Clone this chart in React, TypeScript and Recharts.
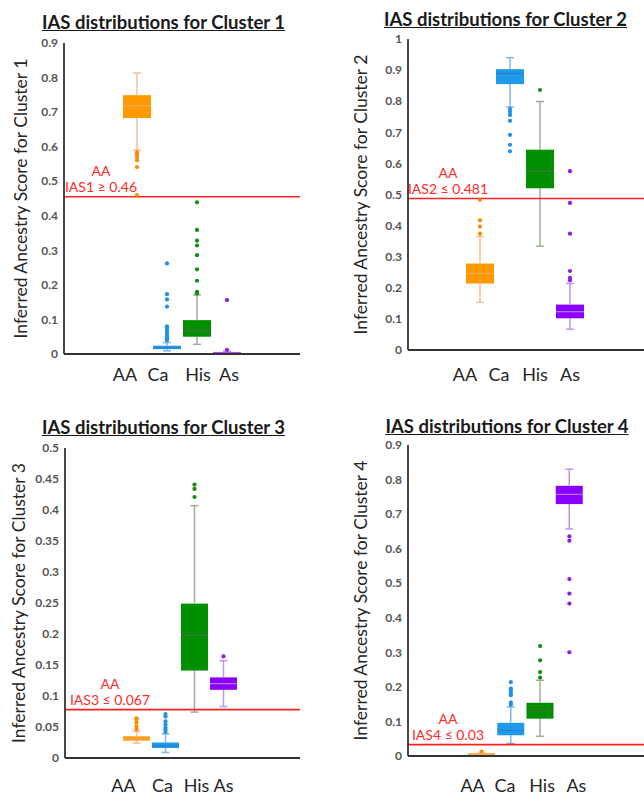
import React from 'react';
import { ComposedChart, Bar, Scatter, XAxis, YAxis, ReferenceLine } from 'recharts';

const categories = ['AA', 'Ca', 'His', 'As'];

// Cluster 1
const c1Min = [0.590, 0.009, 0.028, 0.000];
const c1Q1 = [0.683, 0.014, 0.050, 0.001];
const c1Median = [0.718, 0.018, 0.067, 0.003];
const c1Q3 = [0.749, 0.024, 0.098, 0.006];
const c1Max = [0.813, 0.033, 0.171, 0.008];
const c1Outliers = [
  [0.584, 0.576, 0.570, 0.561, 0.541, 0.460],
  [0.262, 0.173, 0.158, 0.137, 0.080, 0.075, 0.070, 0.062, 0.055, 0.050, 0.045, 0.040],
  [0.439, 0.359, 0.328, 0.314, 0.286, 0.245, 0.212, 0.180, 0.175],
  [0.156, 0.012],
];
const c1Ticks = [0, 0.1, 0.2, 0.3, 0.4, 0.5, 0.6, 0.7, 0.8, 0.9];
const c1Threshold = 0.455;
const c1ThresholdText = ['AA', 'IAS1 ≥ 0.46'];

// Cluster 2
const c2Min = [0.153, 0.782, 0.334, 0.067];
const c2Q1 = [0.214, 0.855, 0.520, 0.102];
const c2Median = [0.246, 0.889, 0.575, 0.123];
const c2Q3 = [0.278, 0.903, 0.644, 0.146];
const c2Max = [0.365, 0.940, 0.799, 0.214];
const c2Outliers = [
  [0.483, 0.417, 0.397, 0.374],
  [0.775, 0.766, 0.756, 0.737, 0.692, 0.660, 0.639],
  [0.836],
  [0.575, 0.473, 0.374, 0.254, 0.232, 0.224],
];
const c2Ticks = [0, 0.1, 0.2, 0.3, 0.4, 0.5, 0.6, 0.7, 0.8, 0.9, 1];
const c2Threshold = 0.487;
const c2ThresholdText = ['AA', 'IAS2 ≤ 0.481'];

// Cluster 3
const c3Min = [0.024, 0.009, 0.074, 0.083];
const c3Q1 = [0.028, 0.016, 0.141, 0.110];
const c3Median = [0.031, 0.020, 0.198, 0.120];
const c3Q3 = [0.035, 0.025, 0.249, 0.130];
const c3Max = [0.043, 0.039, 0.407, 0.157];
const c3Outliers = [
  [0.064, 0.062, 0.057, 0.051, 0.046],
  [0.071, 0.067, 0.059, 0.054, 0.049, 0.046, 0.042],
  [0.441, 0.434, 0.421],
  [0.164],
];
const c3Ticks = [0, 0.05, 0.1, 0.15, 0.2, 0.25, 0.3, 0.35, 0.4, 0.45, 0.5];
const c3Threshold = 0.078;
const c3ThresholdText = ['AA', 'IAS3 ≤ 0.067'];

// Cluster 4
const c4Min = [0.002, 0.036, 0.057, 0.657];
const c4Q1 = [0.003, 0.060, 0.108, 0.729];
const c4Median = [0.005, 0.074, 0.132, 0.757];
const c4Q3 = [0.008, 0.096, 0.154, 0.782];
const c4Max = [0.010, 0.142, 0.219, 0.830];
const c4Outliers = [
  [0.013],
  [0.214, 0.195, 0.190, 0.182, 0.176, 0.155, 0.148],
  [0.318, 0.277, 0.243, 0.227],
  [0.636, 0.623, 0.512, 0.470, 0.441, 0.300],
];
const c4Ticks = [0, 0.1, 0.2, 0.3, 0.4, 0.5, 0.6, 0.7, 0.8, 0.9];
const c4Threshold = 0.033;
const c4ThresholdText = ['AA', 'IAS4 ≤ 0.03'];

// styles
const boxColors = ['#FF9900', '#1E9BEA', '#008F00', '#8A00FF'];
const whiskerColors = ['#F7BE98', '#7DB8EA', '#9DAF97', '#BE95EC'];
const medianColors = ['#F7A860', '#2F7FC4', '#466C42', '#B57AF2'];
const dotColors = ['#FF8C00', '#1E90E8', '#178A17', '#8A1CF0'];
const FONT = 'Lato, "Open Sans", sans-serif';
const MAX_OUT = 12;

function buildRows(min: number[], q1: number[], med: number[], q3: number[], max: number[], outs: number[][]) {
  return categories.map((cat, i) => {
    const row: any = {
      cat,
      base: min[i],
      lowW: q1[i] - min[i],
      boxLow: med[i] - q1[i],
      boxHigh: q3[i] - med[i],
      highW: max[i] - q3[i],
    };
    outs[i].forEach((v, k) => {
      row['o' + k] = v;
    });
    return row;
  });
}

const ci = (p: any) => Math.max(0, categories.indexOf(p?.payload?.cat));

const BaseShape = () => <g />;
const LowWhiskerShape = (p: any) => {
  const c = whiskerColors[ci(p)];
  const cx = p.x + p.width / 2;
  const y0 = p.y;
  const y1 = p.y + p.height;
  return (
    <g>
      <line x1={cx} x2={cx} y1={y0} y2={y1} stroke={c} strokeWidth={1.5} />
      <line x1={cx - 4} x2={cx + 4} y1={y1} y2={y1} stroke={c} strokeWidth={1.5} />
    </g>
  );
};
const HighWhiskerShape = (p: any) => {
  const c = whiskerColors[ci(p)];
  const cx = p.x + p.width / 2;
  const y0 = p.y;
  const y1 = p.y + p.height;
  return (
    <g>
      <line x1={cx} x2={cx} y1={y0} y2={y1} stroke={c} strokeWidth={1.5} />
      <line x1={cx - 4} x2={cx + 4} y1={y0} y2={y0} stroke={c} strokeWidth={1.5} />
    </g>
  );
};
const BoxLowShape = (p: any) => {
  const i = ci(p);
  return <rect x={p.x} y={p.y} width={p.width} height={Math.max(p.height, 0.5)} fill={boxColors[i]} />;
};
const BoxHighShape = (p: any) => {
  const i = ci(p);
  const yb = p.y + p.height;
  return (
    <g>
      <rect x={p.x} y={p.y} width={p.width} height={Math.max(p.height, 0.5)} fill={boxColors[i]} />
      <line x1={p.x} x2={p.x + p.width} y1={yb} y2={yb} stroke={medianColors[i]} strokeWidth={1.2} />
    </g>
  );
};

const makeDot = (key: string) => (p: any) => {
  const v = p?.payload?.[key];
  if (v == null || !isFinite(p.cy) || !isFinite(p.cx)) return <g />;
  return <circle cx={p.cx} cy={p.cy} r={2.1} fill={dotColors[ci(p)]} />;
};

type PanelCfg = {
  title: string;
  yLabel: string;
  rows: any[];
  ticks: number[];
  threshold: number;
  thresholdText: string[];
  left: number;
  top: number;
  width: number;
  height: number;
  margin: { top: number; right: number; bottom: number; left: number };
  padding: { left: number; right: number };
  barSize: number;
  yLabelOffset: number;
  threshDx: number;
  xLabelDy: number;
  xLabelDx: number[];
  titleCenter: number;
  titleTop: number;
};

const Panel = ({ cfg }: { cfg: PanelCfg }) => {
  const XTick = (p: any) => {
    const idx = categories.indexOf(p.payload.value);
    return (
      <text x={p.x + (cfg.xLabelDx[idx] || 0)} y={p.y + cfg.xLabelDy} textAnchor="middle" fontSize={18} fontFamily={FONT} fill="#262626">
        {p.payload.value}
      </text>
    );
  };
  const yLabelContent = (props: any) => {
    const vb = props.viewBox || {};
    const x = vb.x + vb.width - cfg.yLabelOffset;
    const y = vb.y + vb.height / 2;
    return (
      <text x={x} y={y} transform={`rotate(-90 ${x} ${y})`} textAnchor="middle" fontSize={17.5} fontFamily={FONT} fill="#262626">
        {cfg.yLabel}
      </text>
    );
  };
  const threshContent = (props: any) => {
    const vb = props.viewBox || {};
    const x = vb.x + cfg.threshDx;
    const y = vb.y;
    return (
      <g>
        <text x={x} y={y - 21} textAnchor="middle" fontSize={14} fontFamily={FONT} fill="#FF2A2A">
          {cfg.thresholdText[0]}
        </text>
        <text x={x} y={y - 5} textAnchor="middle" fontSize={14} fontFamily={FONT} fill="#FF2A2A">
          {cfg.thresholdText[1]}
        </text>
      </g>
    );
  };
  return (
    <>
      <div
        style={{
          position: 'absolute',
          left: cfg.titleCenter - 160,
          top: cfg.titleTop,
          width: 320,
          textAlign: 'center',
          fontFamily: FONT,
          fontWeight: 700,
          fontSize: 18.5,
          lineHeight: '18px',
          color: '#1a1a1a',
          textDecoration: 'underline',
          whiteSpace: 'nowrap',
        }}
      >
        {cfg.title}
      </div>
      <div style={{ position: 'absolute', left: cfg.left, top: cfg.top }}>
        <ComposedChart width={cfg.width} height={cfg.height} data={cfg.rows} margin={cfg.margin} barGap={0}>
          <XAxis
            dataKey="cat"
            type="category"
            allowDuplicatedCategory={false}
            padding={cfg.padding}
            axisLine={{ stroke: '#333333', strokeWidth: 1.8 }}
            tickLine={false}
            tickSize={0}
            tickMargin={0}
            height={30}
            interval={0}
            tick={XTick}
          />
          <YAxis
            type="number"
            domain={[cfg.ticks[0], cfg.ticks[cfg.ticks.length - 1]]}
            ticks={cfg.ticks}
            interval={0}
            width={40}
            axisLine={{ stroke: '#333333', strokeWidth: 1.8 }}
            tickLine={false}
            tickSize={0}
            tickMargin={6}
            tick={{ fontSize: 12, fontFamily: FONT, fill: '#555555', fontWeight: 700 }}
            tickFormatter={(v: number) => String(v)}
            label={yLabelContent}
          />
          <Bar dataKey="base" stackId="box" barSize={cfg.barSize} shape={BaseShape} isAnimationActive={false} fill="none" />
          <Bar dataKey="lowW" stackId="box" barSize={cfg.barSize} shape={LowWhiskerShape} isAnimationActive={false} />
          <Bar dataKey="boxLow" stackId="box" barSize={cfg.barSize} shape={BoxLowShape} isAnimationActive={false} />
          <Bar dataKey="boxHigh" stackId="box" barSize={cfg.barSize} shape={BoxHighShape} isAnimationActive={false} />
          <Bar dataKey="highW" stackId="box" barSize={cfg.barSize} shape={HighWhiskerShape} isAnimationActive={false} />
          <ReferenceLine y={cfg.threshold} stroke="#FF2020" strokeWidth={1.6} label={threshContent} />
          {Array.from({ length: MAX_OUT }, (_, k) => (
            <Scatter key={'o' + k} dataKey={'o' + k} shape={makeDot('o' + k)} isAnimationActive={false} />
          ))}
        </ComposedChart>
      </div>
    </>
  );
};

const panels: PanelCfg[] = [
  {
    title: 'IAS distributions for Cluster 1',
    yLabel: 'Inferred Ancestry Score for Cluster 1',
    rows: buildRows(c1Min, c1Q1, c1Median, c1Q3, c1Max, c1Outliers),
    ticks: c1Ticks,
    threshold: c1Threshold,
    thresholdText: c1ThresholdText,
    left: 0, top: 0, width: 322, height: 400,
    margin: { top: 43, right: 22, bottom: 16, left: 24 },
    padding: { left: 58, right: 58 },
    barSize: 28,
    yLabelOffset: 37,
    threshDx: 37,
    xLabelDy: 27,
    xLabelDx: [-12, -9, 1, 2],
    titleCenter: 163.5,
    titleTop: 13,
  },
  {
    title: 'IAS distributions for Cluster 2',
    yLabel: 'Inferred Ancestry Score for Cluster 2',
    rows: buildRows(c2Min, c2Q1, c2Median, c2Q3, c2Max, c2Outliers),
    ticks: c2Ticks,
    threshold: c2Threshold,
    thresholdText: c2ThresholdText,
    left: 322, top: 0, width: 322, height: 400,
    margin: { top: 39, right: 0, bottom: 20, left: 46 },
    padding: { left: 57, right: 59 },
    barSize: 28,
    yLabelOffset: 41,
    threshDx: 40,
    xLabelDy: 31,
    xLabelDx: [-15, -11, -5, 0],
    titleCenter: 505.5,
    titleTop: 10,
  },
  {
    title: 'IAS distributions for Cluster 3',
    yLabel: 'Inferred Ancestry Score for Cluster 3',
    rows: buildRows(c3Min, c3Q1, c3Median, c3Q3, c3Max, c3Outliers),
    ticks: c3Ticks,
    threshold: c3Threshold,
    thresholdText: c3ThresholdText,
    left: 0, top: 400, width: 322, height: 395,
    margin: { top: 48, right: 22, bottom: 7, left: 25 },
    padding: { left: 57, right: 62 },
    barSize: 27,
    yLabelOffset: 40,
    threshDx: 45,
    xLabelDy: 34,
    xLabelDx: [-13, -3, 2, 0],
    titleCenter: 163.5,
    titleTop: 418,
  },
  {
    title: 'IAS distributions for Cluster 4',
    yLabel: 'Inferred Ancestry Score for Cluster 4',
    rows: buildRows(c4Min, c4Q1, c4Median, c4Q3, c4Max, c4Outliers),
    ticks: c4Ticks,
    threshold: c4Threshold,
    thresholdText: c4ThresholdText,
    left: 322, top: 400, width: 322, height: 395,
    margin: { top: 45, right: 0, bottom: 9, left: 46 },
    padding: { left: 59, right: 60 },
    barSize: 27,
    yLabelOffset: 41,
    threshDx: 40,
    xLabelDy: 36,
    xLabelDx: [-9, -6, 2, 7],
    titleCenter: 507,
    titleTop: 417,
  },
];

export default function App() {
  return (
    <div style={{ position: 'absolute', left: 0, top: 0, width: 644, height: 795, background: '#ffffff', overflow: 'hidden' }}>
      {panels.map((cfg, i) => (
        <Panel key={i} cfg={cfg} />
      ))}
    </div>
  );
}
